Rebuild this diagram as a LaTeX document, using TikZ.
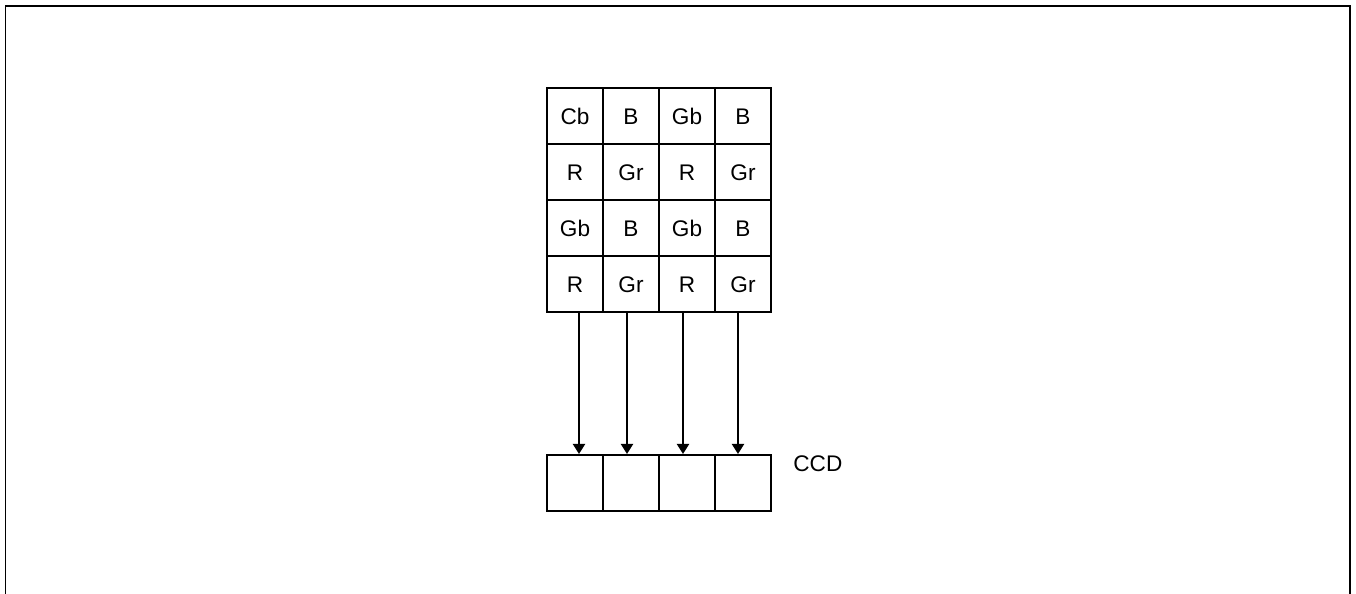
\documentclass[tikz,border=0pt]{standalone}
\usepackage{fontspec}
\setmainfont{Liberation Sans}
\usetikzlibrary{arrows.meta}
\tikzset{
    cell/.style={draw, line width=1pt, minimum size=28pt, inner sep=0pt,
        text height=8.1pt, text depth=0pt, font=\fontsize{11.3}{13}\selectfont},
    feed/.style={line width=1pt, -{Triangle[width=6pt, length=5pt]}}
}
\begin{document}
\begin{tikzpicture}[x=0.5pt, y=0.5pt]
    \useasboundingbox (0,0) rectangle (1356,594);
    \draw[line width=0.9pt] (5.5,0)--(5.5,588)--(1350,588)--(1350,0);

    \foreach \r/\a/\b/\c/\d in {0/Cb/B/Gb/B, 1/R/Gr/R/Gr, 2/Gb/B/Gb/B, 3/R/Gr/R/Gr}{
        \node[cell] (p\r0) at (575,478-56*\r) {\a};
        \node[cell] (p\r1) at (631,478-56*\r) {\b};
        \node[cell] (p\r2) at (687,478-56*\r) {\c};
        \node[cell] (p\r3) at (743,478-56*\r) {\d};}

    \foreach \c in {0,1,2,3}{
        \node[cell] (ccd\c) at (575+56*\c,111) {};}

    \node[anchor=west, inner sep=0pt, font=\fontsize{11.3}{13}\selectfont] (ccdlabel) at (793,130) {CCD};

    \foreach \c/\dx in {0/2, 1/-2, 2/-2, 3/-2.5}{
        \draw[feed] ([xshift=\dx pt]p3\c.south) -- ([xshift=\dx pt]ccd\c.north);}
\end{tikzpicture}
\end{document}
